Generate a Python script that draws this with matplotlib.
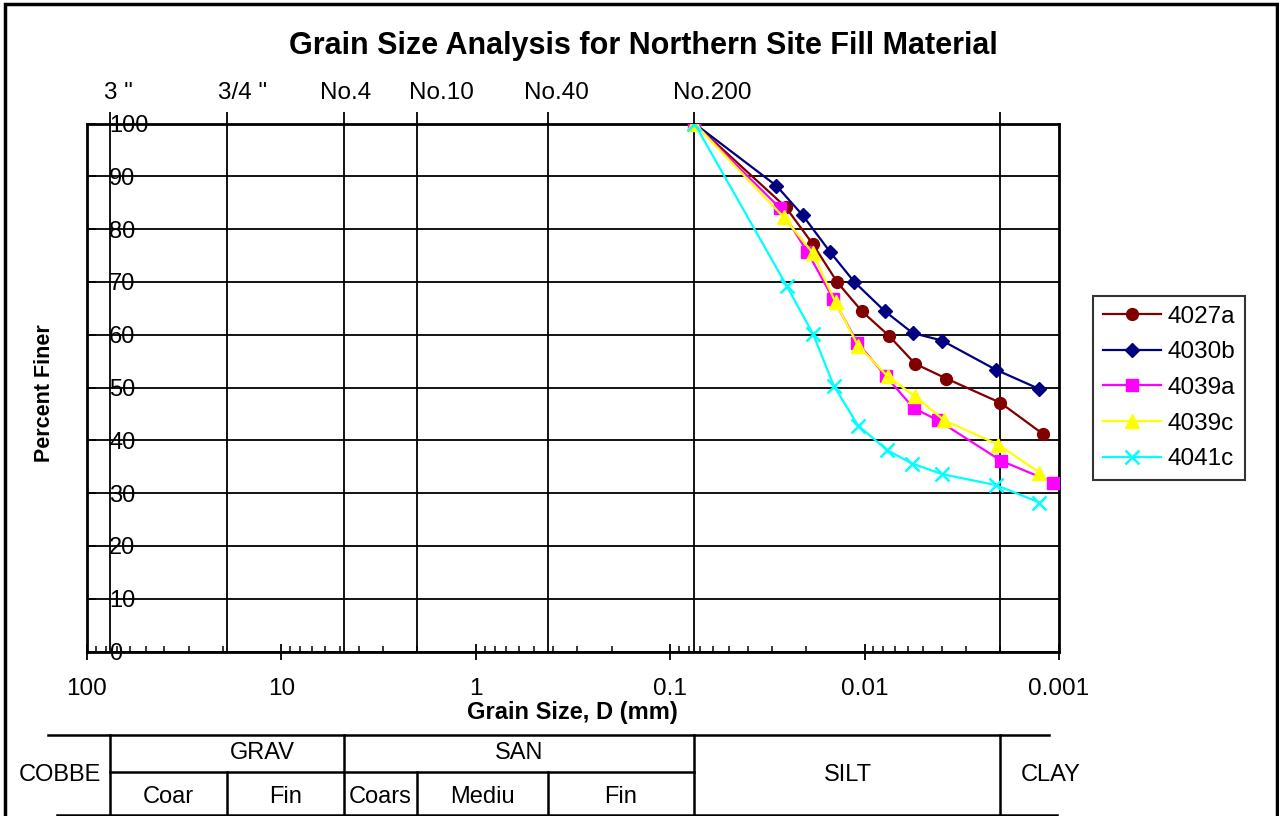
import numpy as np
import matplotlib.pyplot as plt
from matplotlib.patches import Rectangle
from matplotlib.ticker import FixedLocator, LogLocator, NullFormatter, FuncFormatter
from matplotlib.transforms import blended_transform_factory

plt.rcParams['font.family'] = ['Liberation Sans', 'DejaVu Sans']

# sieve openings (mm) and their names
sieve_names = ['3 "', '3/4 "', 'No.4', 'No.10', 'No.40', 'No.200']
sieve_sizes = [76.2, 19.05, 4.75, 2.0, 0.425, 0.075]
clay_limit = 0.002

# grain size (mm) / percent finer for each sample
d_4027a = [0.075, 0.0255, 0.0185, 0.0138, 0.0103, 0.0075, 0.0055, 0.0038, 0.0020, 0.00121]
p_4027a = [100, 84.2, 77.2, 69.9, 64.4, 59.8, 54.5, 51.7, 47.1, 41.2]

d_4030b = [0.075, 0.0284, 0.0208, 0.0150, 0.0113, 0.0079, 0.00565, 0.0040, 0.00212, 0.00126]
p_4030b = [100, 88.2, 82.6, 75.6, 70.0, 64.5, 60.3, 58.9, 53.4, 49.7]

d_4039a = [0.075, 0.0273, 0.0197, 0.0145, 0.0109, 0.0078, 0.0056, 0.0042, 0.00198, 0.00107]
p_4039a = [100, 84.0, 75.7, 66.8, 58.5, 52.2, 46.1, 43.8, 36.1, 32.0]

d_4039c = [0.075, 0.0260, 0.0185, 0.0141, 0.0108, 0.0076, 0.0055, 0.0039, 0.00206, 0.00126]
p_4039c = [100, 82.2, 75.5, 66.1, 57.9, 52.1, 48.3, 43.8, 39.2, 33.9]

d_4041c = [0.075, 0.0252, 0.0184, 0.0144, 0.0108, 0.0077, 0.0057, 0.0040, 0.0021, 0.00126]
p_4041c = [100, 69.3, 60.1, 50.3, 42.8, 38.2, 35.6, 33.6, 31.5, 28.2]

series = [
    ('4027a', d_4027a, p_4027a, '#800000', 'o', 8.5),
    ('4030b', d_4030b, p_4030b, '#000080', 'D', 7.5),
    ('4039a', d_4039a, p_4039a, '#FF00FF', 's', 8),
    ('4039c', d_4039c, p_4039c, '#FFFF00', '^', 10),
    ('4041c', d_4041c, p_4041c, '#00FFFF', 'x', 10),
]

W, H = 1279, 816
fig = plt.figure(figsize=(W / 100, H / 100), dpi=100)
fig.patches.append(Rectangle((5 / W, -0.01), 1272 / W, 1.01 - 4 / H,
                             transform=fig.transFigure, fill=False,
                             edgecolor='black', lw=2.5))

ax = fig.add_axes([87 / W, 1 - 651.5 / H, 972 / W, 528 / H])
ax.set_xscale('log')
ax.set_xlim(100, 0.001)
ax.set_ylim(0, 100)

# grid: horizontal every 10%, vertical at sieve sizes
ax.set_yticks(range(0, 101, 10))
ax.grid(axis='y', color='black', lw=1.3)
ax.vlines(sieve_sizes + [clay_limit], 0, 102.1, colors='black', lw=1.3,
          clip_on=False, zorder=2)

for i, (name, d, p, c, m, ms) in enumerate(series):
    ax.plot(d, p, color=c, marker=m, markersize=ms, lw=1.6,
            mew=1.8 if m == 'x' else 1, label=name, zorder=3 + i)

ax.xaxis.set_major_locator(FixedLocator([100, 10, 1, 0.1, 0.01, 0.001]))
ax.xaxis.set_major_formatter(FuncFormatter(lambda v, _: '%g' % v))
ax.xaxis.set_minor_locator(LogLocator(base=10, subs=range(2, 10)))
ax.xaxis.set_minor_formatter(NullFormatter())
ax.tick_params(axis='x', which='major', direction='inout', length=12,
               width=1.3, labelsize=17.5, pad=13)
ax.tick_params(axis='x', which='minor', direction='in', length=4, width=1.1)
ax.tick_params(axis='y', direction='in', length=6.5, width=1.3,
               labelsize=17, pad=-16)
for lab in ax.get_yticklabels():
    lab.set_ha('left')
for s in ax.spines.values():
    s.set_linewidth(2)

# sieve names above the chart
offsets = [8, 16, 1, 24, 8, 18]
for name, size, off in zip(sieve_names, sieve_sizes, offsets):
    ax.annotate(name, (size, 1 - 93 / H), xycoords=('data', 'figure fraction'),
                xytext=(off * 0.72, 0), textcoords='offset points',
                ha='center', va='center', fontsize=17.5, annotation_clip=False)

fig.text(643 / W, 1 - 46 / H, 'Grain Size Analysis for Northern Site Fill Material',
         ha='center', va='center', fontsize=22, fontweight='bold')
fig.text(45 / W, 1 - 393 / H, 'Percent Finer', rotation=90,
         ha='center', va='center', fontsize=15.5, fontweight='bold')
fig.text(572 / W, 1 - 712 / H, 'Grain Size, D (mm)',
         ha='center', va='center', fontsize=17, fontweight='bold')

# soil classification table under the chart
tr = blended_transform_factory(ax.transData, fig.transFigure)
y_top, y_mid, y_bot = 1 - 735 / H, 1 - 772 / H, 1 - 814.5 / H
kw = dict(color='black', lw=1.8, transform=tr, clip_on=False)
ax.plot([158, 0.00113], [y_top, y_top], **kw)
ax.plot([142, 0.00102], [y_bot, y_bot], **kw)
ax.plot([76.2, 0.075], [y_mid, y_mid], **kw)
for b in [76.2, 4.75, 0.075, clay_limit]:
    ax.plot([b, b], [y_top, y_bot], **kw)
for b in [19.05, 2.0, 0.425]:
    ax.plot([b, b], [y_mid, y_bot], **kw)

row1 = 1 - 753 / H
row2 = 1 - 797 / H
row_c = 1 - 775 / H
table_text = [
    ('COBBE', 138, row_c), ('GRAV', 12.5, row1), ('SAN', 0.6, row1),
    ('Coar', 38.1, row2), ('Fin', 9.5, row2), ('Coars', 3.1, row2),
    ('Mediu', 0.92, row2), ('Fin', 0.18, row2),
    ('SILT', 0.0122, row_c), ('CLAY', 0.00111, row_c),
]
for t, x, y in table_text:
    ax.text(x, y, t, transform=tr, ha='center', va='center', fontsize=17,
            clip_on=False)

leg = fig.legend(loc='upper left', bbox_to_anchor=(1093 / W, 1 - 296 / H),
                 borderaxespad=0, fontsize=17.5, frameon=True, fancybox=False,
                 handlelength=2.4, handletextpad=0.25, labelspacing=0.56,
                 borderpad=0.4)
leg.get_frame().set_edgecolor('black')
leg.get_frame().set_linewidth(1.5)

fig.savefig('out.png', dpi=100)
